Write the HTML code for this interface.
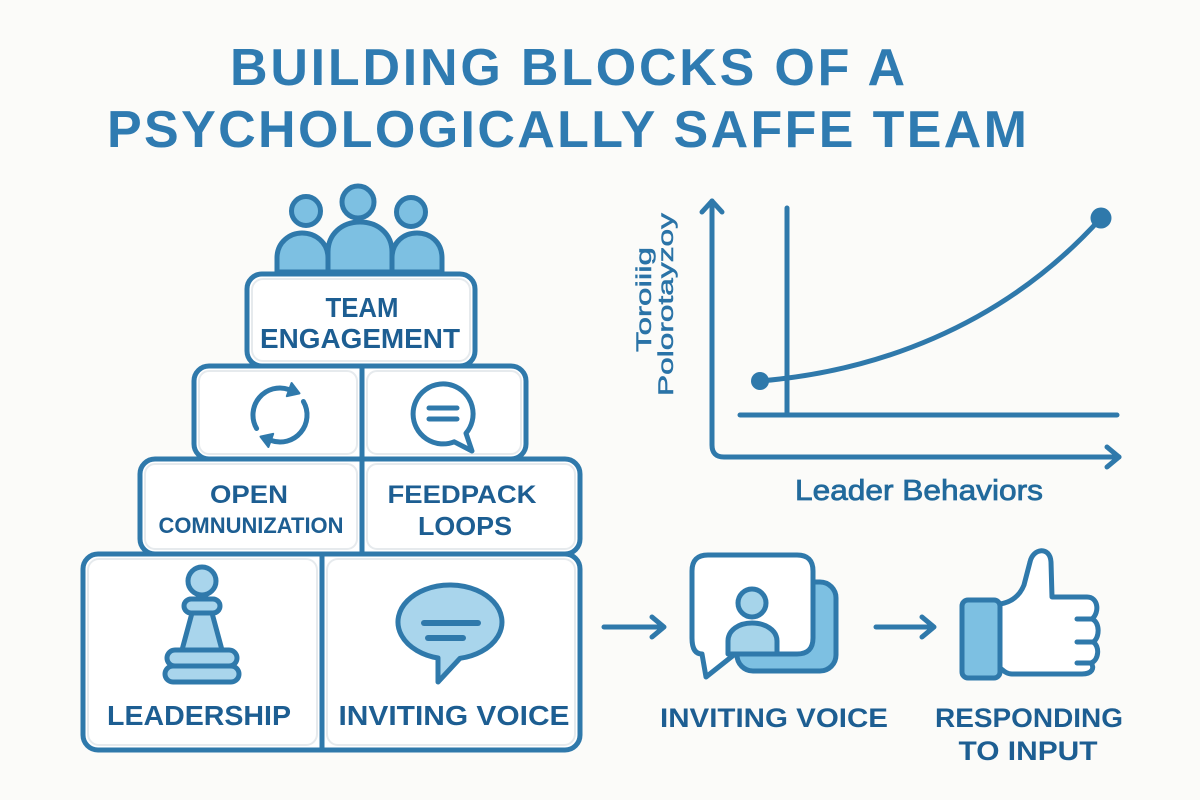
<!DOCTYPE html>
<html>
<head>
<meta charset="utf-8">
<style>
  html,body{margin:0;padding:0;background:#fbfbf9;}
  svg{display:block;}
  .t{font-family:"Liberation Sans",Arial,sans-serif;font-weight:bold;}
</style>
</head>
<body>
<svg width="1200" height="800" viewBox="0 0 1200 800" xmlns="http://www.w3.org/2000/svg">
  <rect x="0" y="0" width="1200" height="800" fill="#fbfbf9"/>

  <!-- Title -->
  <g class="t" fill="#2f7bb1" font-size="52">
    <text x="230" y="85" textLength="675" lengthAdjust="spacing">BUILDING BLOCKS OF A</text>
    <text x="107" y="147" textLength="920" lengthAdjust="spacing">PSYCHOLOGICALLY SAFFE TEAM</text>
  </g>

  <!-- Pyramid rows -->
  <g stroke="#2f79ab" stroke-width="5" fill="#ffffff" stroke-linejoin="round">
    <rect x="83" y="554" width="497" height="196" rx="15"/>
    <rect x="140" y="459" width="440" height="95" rx="15"/>
    <rect x="194" y="366" width="332" height="93" rx="15"/>
    <rect x="247" y="274" width="228" height="92" rx="15"/>
    <line x1="322" y1="554" x2="322" y2="750"/>
    <line x1="362" y1="459" x2="362" y2="554"/>
    <line x1="362" y1="366" x2="362" y2="459"/>
  </g>
  <!-- faint inner cell edges -->
  <g fill="none" stroke="#e6eaed" stroke-width="2">
    <rect x="252" y="279" width="218" height="82" rx="11"/>
    <rect x="199" y="371" width="158" height="83" rx="10"/>
    <rect x="367" y="371" width="154" height="83" rx="10"/>
    <rect x="145" y="464" width="212" height="85" rx="10"/>
    <rect x="367" y="464" width="208" height="85" rx="10"/>
    <rect x="88" y="559" width="229" height="186" rx="11"/>
    <rect x="327" y="559" width="248" height="186" rx="11"/>
  </g>

  <!-- People on top -->
  <g stroke="#2f79ab" stroke-width="5" fill="#7dc0e2" stroke-linejoin="round">
    <path d="M277 272 L277 258 C277 242 290 233 302 233 C315 233 328 242 328 258 L328 272 Z"/>
    <path d="M392 272 L392 258 C392 242 404 233 417 233 C430 233 442 242 442 258 L442 272 Z"/>
    <circle cx="306" cy="211" r="14.5"/>
    <circle cx="411" cy="212" r="14.5"/>
    <path d="M328 272 L328 252 C328 234 342 222 360 222 C378 222 392 234 392 252 L392 272 Z"/>
    <circle cx="358" cy="202" r="16"/>
  </g>
  <line x1="262" y1="274" x2="460" y2="274" stroke="#2f79ab" stroke-width="5"/>

  <!-- Row 1 text -->
  <g class="t" fill="#1d5e92" font-size="28" text-anchor="middle">
    <text x="362" y="317" textLength="73" lengthAdjust="spacingAndGlyphs">TEAM</text>
    <text x="360" y="348" textLength="200" lengthAdjust="spacingAndGlyphs">ENGAGEMENT</text>
  </g>

  <!-- Row 2 icons -->
  <g stroke="#2f79ab" stroke-width="5" fill="none" stroke-linecap="round">
    <path d="M256.6 428.5 A27 27 0 0 1 289.2 389.6"/>
    <path d="M303.4 401.5 A27 27 0 0 1 270.8 440.4"/>
  </g>
  <g fill="#2f79ab" stroke="#2f79ab" stroke-width="2" stroke-linejoin="round">
    <polygon points="291.6,383 286.8,396.2 299.5,393.4"/>
    <polygon points="268.4,447 273.2,433.8 260.5,436.6"/>
  </g>
  <path d="M466 433.3 A30 30 0 1 0 454.2 441.8 L472 451 Z" fill="#ffffff" stroke="#2f79ab" stroke-width="5" stroke-linejoin="round"/>
  <g stroke="#2f79ab" stroke-width="5" stroke-linecap="round">
    <line x1="429" y1="408" x2="457" y2="408"/>
    <line x1="429" y1="419" x2="457" y2="419"/>
  </g>

  <!-- Row 3 text -->
  <g class="t" fill="#1d5e92" text-anchor="middle">
    <text x="249" y="503" font-size="25" textLength="78" lengthAdjust="spacingAndGlyphs">OPEN</text>
    <text x="251" y="533" font-size="22" textLength="185" lengthAdjust="spacingAndGlyphs">COMNUNIZATION</text>
    <text x="462" y="503" font-size="25" textLength="149" lengthAdjust="spacingAndGlyphs">FEEDPACK</text>
    <text x="465" y="535" font-size="26" textLength="94" lengthAdjust="spacingAndGlyphs">LOOPS</text>
  </g>

  <!-- Pawn -->
  <g stroke="#2f79ab" stroke-width="5" fill="#a9d5ec" stroke-linejoin="round">
    <rect x="165" y="666" width="74" height="16" rx="8"/>
    <rect x="167" y="650" width="70" height="16" rx="8"/>
    <path d="M192 613 L212 613 L222 650 L182 650 Z"/>
    <rect x="184" y="599" width="36" height="14" rx="7"/>
    <circle cx="202" cy="581" r="14"/>
  </g>

  <!-- Row 4 speech bubble -->
  <path d="M460 658.3 A52 37 0 1 0 438 658 L438 682 Z" fill="#a9d5ec" stroke="#2f79ab" stroke-width="5" stroke-linejoin="round"/>
  <g stroke="#2f79ab" stroke-width="6" stroke-linecap="round">
    <line x1="424" y1="623" x2="478" y2="623"/>
    <line x1="428" y1="638" x2="463" y2="638"/>
  </g>

  <!-- Row 4 text -->
  <g class="t" fill="#1d5e92" font-size="28" text-anchor="middle">
    <text x="199" y="725" textLength="184" lengthAdjust="spacingAndGlyphs">LEADERSHIP</text>
    <text x="454" y="725" textLength="231" lengthAdjust="spacingAndGlyphs">INVITING VOICE</text>
  </g>

  <!-- Chart -->
  <g stroke="#2f79ab" stroke-width="5" fill="none" stroke-linecap="round" stroke-linejoin="round">
    <path d="M712 201 L712 445 Q712 457 724 457 L1119 457"/>
    <path d="M702 212 L712 201 L722 212"/>
    <path d="M1107 447 L1119 457 L1107 467"/>
    <line x1="787" y1="208" x2="787" y2="415"/>
    <line x1="740" y1="415" x2="1117" y2="415"/>
    <path d="M760 381 C870 372 1000 330 1101 218"/>
  </g>
  <circle cx="760" cy="381" r="9" fill="#2f79ab"/>
  <circle cx="1101" cy="218" r="10.5" fill="#2f79ab"/>

  <g font-family="Liberation Sans, Arial, sans-serif" fill="#2a73a7" stroke="#2a73a7" stroke-width="0.5" font-size="21">
    <text transform="translate(651,352) rotate(-90)" textLength="105" lengthAdjust="spacingAndGlyphs">Toroiiig</text>
    <text transform="translate(673,396) rotate(-90)" textLength="183" lengthAdjust="spacingAndGlyphs">Polorotayzoy</text>
  </g>
  <text x="795" y="500" font-family="Liberation Sans, Arial, sans-serif" font-size="29" fill="#226a9c" stroke="#226a9c" stroke-width="0.8" textLength="248" lengthAdjust="spacingAndGlyphs">Leader Behaviors</text>

  <!-- Flow arrows -->
  <g stroke="#2f79ab" stroke-width="5" fill="none" stroke-linecap="round" stroke-linejoin="round">
    <line x1="604" y1="627" x2="663" y2="627"/>
    <path d="M652 617 L664 627 L652 637"/>
    <line x1="876" y1="627" x2="933" y2="627"/>
    <path d="M922 617 L934 627 L922 637"/>
  </g>

  <!-- Inviting voice icon -->
  <g stroke="#2f79ab" stroke-width="5" stroke-linejoin="round">
    <rect x="737" y="582" width="99" height="89" rx="16" fill="#7dc0e2"/>
    <path d="M708 555 H797 Q813 555 813 571 V638 Q813 654 797 654 H735 L706 677 L702 654 Q692 654 692 638 V571 Q692 555 708 555 Z" fill="#ffffff"/>
    <path d="M728 654 V641 C728 630 739 623 752 623 C765 623 777 630 777 641 V654 Z" fill="#a6d4ea"/>
    <circle cx="752" cy="603" r="14" fill="#a6d4ea"/>
  </g>

  <!-- Thumbs up -->
  <g stroke="#2f79ab" stroke-width="5" stroke-linejoin="round" stroke-linecap="round">
    <path d="M1000 604 C1012 602 1020 595 1024 585 L1030 562 C1033 548 1050 546 1051 562 L1052 597 L1087 597 C1098 597 1100 612 1092 619 C1100 622 1100 638 1093 642 C1100 646 1099 660 1091 663 C1095 668 1092 674 1082 674 L1012 674 C1006 674 1003 670 1000 668 Z" fill="#ffffff"/>
    <line x1="1077" y1="619" x2="1093" y2="619"/>
    <line x1="1077" y1="642" x2="1094" y2="642"/>
    <line x1="1077" y1="663" x2="1091" y2="663"/>
    <rect x="962" y="600" width="38" height="78" rx="6" fill="#7dc0e2"/>
  </g>

  <!-- Flow labels -->
  <g class="t" fill="#1d5e92" font-size="27" text-anchor="middle">
    <text x="774" y="727" textLength="228" lengthAdjust="spacingAndGlyphs">INVITING VOICE</text>
    <text x="1029" y="727" textLength="188" lengthAdjust="spacingAndGlyphs">RESPONDING</text>
    <text x="1028" y="760" textLength="139" lengthAdjust="spacingAndGlyphs">TO INPUT</text>
  </g>
</svg>
</body>
</html>
